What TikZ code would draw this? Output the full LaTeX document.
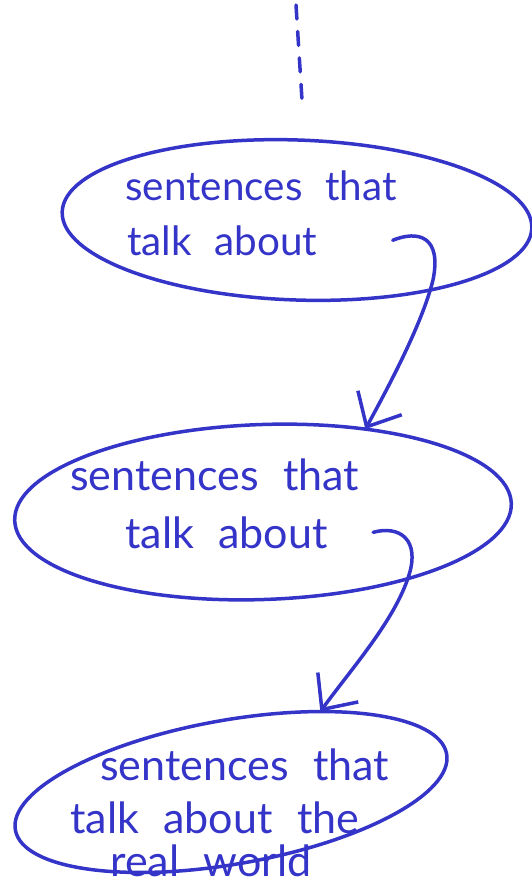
\documentclass[tikz,border=0pt]{standalone}
\usepackage{fontspec}
\setmainfont{Lato}[WordSpace=2.2]
\usetikzlibrary{shapes.geometric,arrows.meta}
\definecolor{ink}{RGB}{52,52,200}
\begin{document}
\begin{tikzpicture}[x=0.02cm, y=-0.02cm, line join=round, line cap=round, >={Straight Barb[length=0.55cm,width=1cm]}]
	\tikzset{every node/.style={text=ink}}
	\tikzset{blob/.style={draw=ink, line width=0.07cm, ellipse, inner sep=0pt, outer sep=0pt},
		words/.style={anchor=base west, inner sep=0pt, font=\fontsize{24.5}{30}\selectfont},
		hand/.style={draw=ink, line width=0.07cm}}
	\useasboundingbox (0,0) rectangle (531,886);
	\coordinate (d0) at (296,5);
	\coordinate (d1) at (302,100);
	\draw[hand, dash pattern=on 0.28cm off 0.25cm] (d0) -- (d1);
	\node[blob, minimum width=9.4cm, minimum height=3.2cm, rotate=-2] (e1) at (297,220) {};
	\node[blob, minimum width=9.94cm, minimum height=3.5cm, rotate=2] (e2) at (263,512) {};
	\node[blob, minimum width=8.76cm, minimum height=2.88cm, rotate=10] (e3) at (231,792) {};
	\node[words, font=\fontsize{23}{28}\selectfont] (a1) at (125,200) {sentences that};
	\node[words, font=\fontsize{23}{28}\selectfont] (b1) at (127,255) {talk about};
	\node[words] (a2) at (70,490) {sentences that};
	\node[words] (b2) at (125,548) {talk about};
	\node[words] (a3) at (100,780) {sentences that};
	\node[words] (b3) at (70,833) {talk about the};
	\node[words] (c3) at (110,876) {real world};
	\draw[hand, ->] ([xshift=1.5cm]b1.east) .. controls (418,230) and (442,236) .. (433,280) .. controls (423,320) and (395,375) .. (e2.37);
	\draw[hand, ->] ([xshift=0.9cm]b2.east) .. controls (400,525) and (420,540) .. (409,575) .. controls (395,620) and (352,668) .. (e3.32);
\end{tikzpicture}
\end{document}
